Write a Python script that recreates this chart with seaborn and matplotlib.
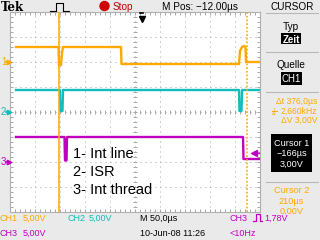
import numpy as np
import pandas as pd
import matplotlib
matplotlib.use("Agg")
import matplotlib.pyplot as plt
from matplotlib.patches import Rectangle, Ellipse
from matplotlib.lines import Line2D
import matplotlib.transforms as mtransforms
import seaborn as sns

# ---------------- data (time in µs relative to trigger, volts) ----------------
ch_names = ["CH1", "CH2", "CH3"]
ch1_t = [-251, -166, -165, -161, -159, -157, -41, -40, 195, 197, 201, 205, 208, 209, 237]
ch1_v = [3.0, 3.0, -0.6, -0.6, 1.8, 3.0, 3.0, -0.4, -0.4, 2.2, 3.0, 3.2, 3.0, 0.0, 0.0]
ch2_t = [-251, -163, -162, -158, -157, 195, 196, 200, 201, 237]
ch2_v = [4.4, 4.4, 0.2, 0.2, 4.4, 4.4, 0.2, 0.2, 4.4, 4.4]
ch3_t = [-251, -154, -153, -150, -149, 203, 204, 237]
ch3_v = [5.0, 5.0, 0.3, 0.3, 5.0, 5.0, 0.6, 0.6]
ch_ground_div = [2.0, 0.0, -2.0]     # channel ground position (divisions)
volts_per_div = [5.0, 5.0, 5.0]
cursor1_t = -166
cursor2_t = 210
trigger_t = 0
trig_level_v = 1.78
legend_lines = ["1- Int line", "2- ISR", "3- Int thread"]

# ---------------- style ----------------
ORANGE = "#FFA800"
CYAN = "#10BCBC"
MAGENTA = "#C000C0"
BG = "#EAEAEA"
NARROW = ["Liberation Sans", "DejaVu Sans"]
colors = {"CH1": ORANGE, "CH2": CYAN, "CH3": MAGENTA}

W, H = 320, 240
fig = plt.figure(figsize=(3.2, 2.4), dpi=100, facecolor=BG)
ax = fig.add_axes([10 / W, 28 / H, 250 / W, 200 / H])
ax.set_facecolor("white")

frames = []
for name, t, v, g, vd in zip(ch_names, [ch1_t, ch2_t, ch3_t], [ch1_v, ch2_v, ch3_v],
                             ch_ground_div, volts_per_div):
    frames.append(pd.DataFrame({"t": t, "div": g + np.array(v) / vd, "ch": name}))
df = pd.concat(frames, ignore_index=True)

xmin, xmax = -263, 237
ax.set_xlim(xmin, xmax)
ax.set_ylim(-4, 4)

# graticule
div_us = 50
xc = (xmin + xmax) / 2
gx = [xmin + div_us * k for k in range(1, 10)]
gy = list(range(-3, 4))
dot = (0, (1, 4))
for x in gx:
    ax.axvline(x, color="#A8A8A8", lw=0.72, ls=dot, zorder=1)
for y in gy:
    ax.axhline(y, color="#A8A8A8", lw=0.72, ls=dot, zorder=1)
mx = np.arange(xmin, xmax + 1, 10)
my = np.arange(-4, 4.01, 0.2)
ax.plot(mx, np.zeros_like(mx), ls="none", marker="|", ms=3, mew=0.7, color="#A8A8A8", zorder=1)
ax.plot(np.full_like(my, xc), my, ls="none", marker="_", ms=3, mew=0.7, color="#A8A8A8", zorder=1)
ax.set_xticks(np.arange(xmin, xmax + 1, 10))
ax.set_yticks(my)
ax.tick_params(which="both", direction="in", length=2.5, width=0.7, color="#A8A8A8",
               labelbottom=False, labelleft=False, top=True, right=True)
for s in ax.spines.values():
    s.set_color("#B0B0B0")
    s.set_linewidth(0.8)

# traces
sns.lineplot(data=df, x="t", y="div", hue="ch", palette=colors, estimator=None,
             sort=False, units="ch", legend=False, lw=1.7, ax=ax, zorder=3)
ax.set_xlabel("")
ax.set_ylabel("")

# cursors
ax.axvline(cursor1_t, color=ORANGE, lw=1.1, zorder=4)
ax.axvline(cursor2_t, color=ORANGE, lw=1.1, ls=(0, (1.2, 1.2)), zorder=4)

# trigger position marker
tb = mtransforms.blended_transform_factory(ax.transData, ax.transAxes)
ax.plot([trigger_t], [0.965], marker="v", ms=5, color="black", transform=tb, clip_on=False, zorder=5)
ax.plot([trigger_t - 3.5, trigger_t + 3.5], [0.993, 0.993], color="black", lw=1.2,
        transform=tb, clip_on=False, zorder=5)
# trigger level marker (CH3)
tl = ch_ground_div[2] + trig_level_v / volts_per_div[2]
ta = mtransforms.blended_transform_factory(ax.transAxes, ax.transData)
ax.plot([0.975], [tl], marker="<", ms=4, color=MAGENTA, transform=ta, clip_on=False, zorder=5)
ax.plot([0.975, 0.995], [tl, tl], color=MAGENTA, lw=1, transform=ta, clip_on=False, zorder=5)

# channel ground markers on the left
gm = mtransforms.blended_transform_factory(fig.transFigure, ax.transData)
for i, (g, name) in enumerate(zip(ch_ground_div, ch_names)):
    c = colors[name]
    fig.text(1 / W, g, str(i + 1), color=c, fontsize=7, family=NARROW,
             va="center", ha="left", transform=gm)
    fig.add_artist(Line2D([6 / W, 9 / W], [g, g], color=c, lw=1.2, transform=gm))
    fig.add_artist(Line2D([8.5 / W], [g], marker=">", ms=3.2, color=c, transform=gm))

# annotation text
for k, s in enumerate(legend_lines):
    fig.text(73 / W, 1 - (154 + k * 18) / H, s, fontsize=10.5, family="Liberation Sans",
             va="center", ha="left", color="black")


def ft(x, y, s, **kw):
    kw.setdefault("family", NARROW)
    kw.setdefault("fontsize", 6.5)
    kw.setdefault("va", "center_baseline")
    return fig.text(x / W, 1 - y / H, s, **kw)


def fline(xs, ys, **kw):
    fig.add_artist(Line2D([p / W for p in xs], [1 - p / H for p in ys], **kw))


def box(x0, y0, x1, y1, c="black"):
    fig.add_artist(Rectangle((x0 / W, 1 - y1 / H), (x1 - x0) / W, (y1 - y0) / H,
                             facecolor=c, edgecolor="none", transform=fig.transFigure))


# top bar
ft(0.5, 6, "Tek", family="DejaVu Serif", weight="bold", fontsize=8.5)
fline([50, 53, 56, 56, 63, 63, 66, 69], [11, 11, 11, 3, 3, 11, 11, 11], color="black", lw=0.8)
fig.add_artist(Ellipse((104.5 / W, 1 - 6 / H), 9 / W, 9 / H, color="#D00000",
                       transform=fig.transFigure))
ft(113, 6, "Stop", color="#C00000", fontsize=7.2)
ft(162, 6, "M Pos: −12.00µs", fontsize=7.2)
ft(292, 6, "CURSOR", ha="center", fontsize=7.2)

# right panel
for y in [13, 52, 92, 182]:
    fline([266, 318], [y, y], color="#B8B8B8", lw=0.8)
ft(291, 26, "Typ", ha="center", fontsize=7.2)
box(281, 33, 301, 44)
ft(291, 39, "Zeit", ha="center", color="white", weight="bold", fontsize=7)
ft(291, 64, "Quelle", ha="center", fontsize=7.2)
box(281, 72, 302, 85)
ft(291.5, 78.5, "CH1", ha="center", color="white", fontsize=7)
ft(276, 100, "Δt 376,0µs", color=ORANGE, fontsize=6.2)
ft(271, 110, r"$\frac{1}{\Delta t}$", color=ORANGE, fontsize=4.5, family="DejaVu Sans")
ft(281, 110, "2,660kHz", color=ORANGE, fontsize=6.2)
ft(281, 119.5, "ΔV 3,00V", color=ORANGE, fontsize=6.2)
box(271, 134, 312, 172)
ft(291.5, 142, "Cursor 1", ha="center", color="white", fontsize=6.6)
ft(291.5, 152.5, "−166µs", ha="center", color="white", fontsize=6.6)
ft(291.5, 163.5, "3,00V", ha="center", color="white", fontsize=6.6)
ft(291.5, 189.5, "Cursor 2", ha="center", color=ORANGE, fontsize=6.6)
ft(291.5, 200, "210µs", ha="center", color=ORANGE, fontsize=6.6)
ft(291.5, 210, "0,00V", ha="center", color=ORANGE, fontsize=6.6)

# bottom bar
ft(0, 217.5, "CH1", color=ORANGE)
ft(23, 217.5, "5,00V", color=ORANGE)
ft(67, 217.5, "CH2", color=CYAN)
ft(89, 217.5, "5,00V", color=CYAN)
ft(140, 217.5, "M 50,0µs")
ft(230, 217.5, "CH3", color=MAGENTA)
# rising-pulse trigger symbol (no installed font has U+238D)
fline([253, 255.5, 255.5, 259.5, 259.5, 262], [221, 221, 214, 214, 221, 221], color=MAGENTA, lw=0.9)
ft(264, 217.5, "1,78V", color=MAGENTA)
ft(0, 232, "CH3", color=MAGENTA)
ft(23, 232, "5,00V", color=MAGENTA)
ft(140, 232, "10-Jun-08 11:26")
ft(230, 232, "<10Hz", color=MAGENTA)

fig.savefig("out.png", dpi=100, facecolor=BG)
